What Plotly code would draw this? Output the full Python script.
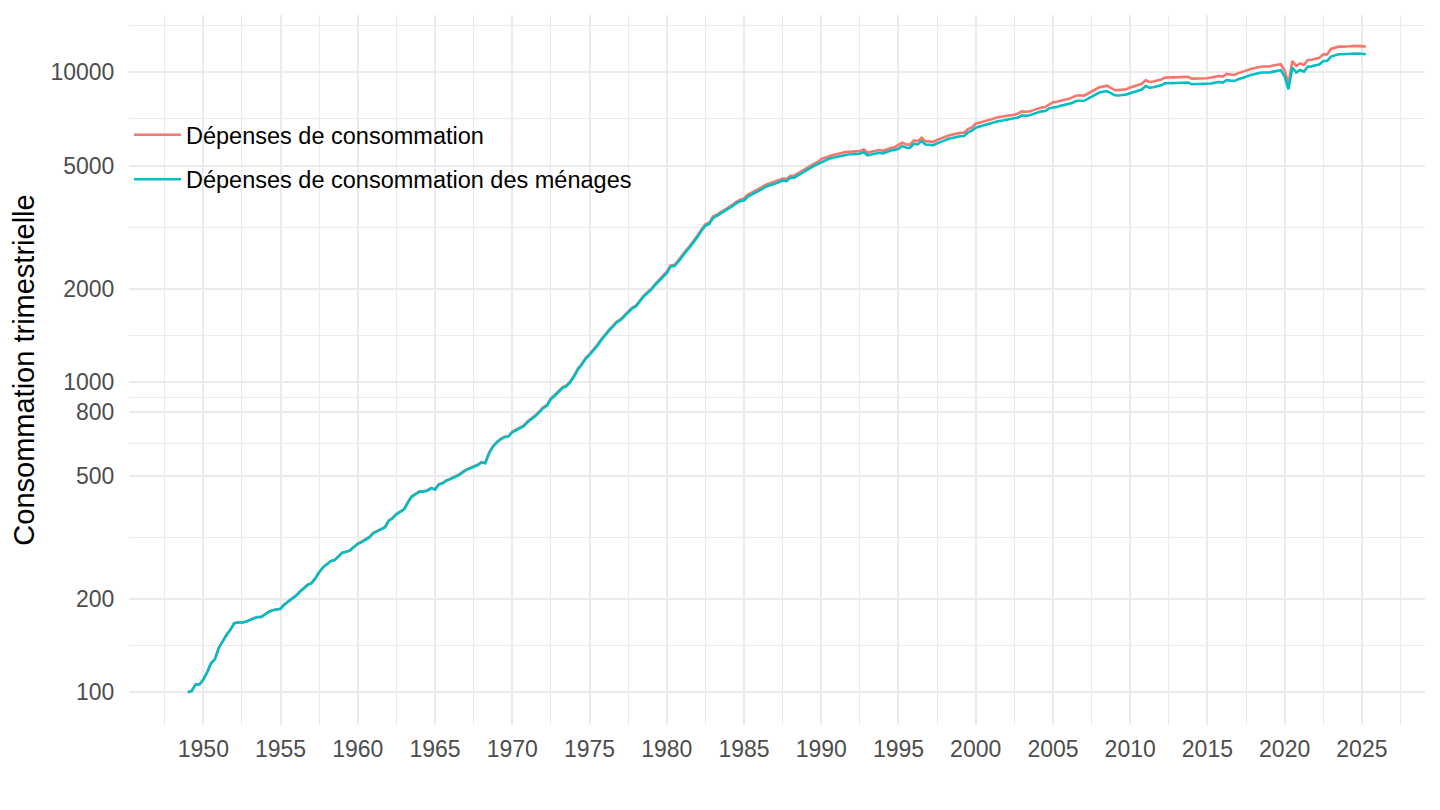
import pandas as pd
import plotly.graph_objects as go

# Quarterly values, 1949 Q1 .. 2025 Q2
menages = [
    100, 101, 106, 106,
    110, 116, 124, 128,
    139, 146, 153, 159,
    167, 168, 168, 169,
    171, 174, 175, 175,
    179, 182, 184, 185,
    186, 192, 196, 200,
    205, 211, 216, 222,
    225, 233, 244, 253,
    259, 265, 267, 275,
    282, 284, 287, 294,
    301, 305, 311, 316,
    326, 331, 336, 340,
    357, 364, 375, 381,
    389, 410, 428, 436,
    444, 444, 447, 455,
    451, 468, 472, 482,
    487, 494, 500, 510,
    521, 527, 534, 540,
    551, 548, 590, 620,
    640, 655, 665, 668,
    690, 700, 712, 722,
    745, 760, 778, 800,
    825, 840, 882, 905,
    934, 958, 970, 1000,
    1044, 1100, 1139, 1190,
    1225, 1265, 1310, 1365,
    1420, 1465, 1510, 1560,
    1585, 1630, 1690, 1730,
    1757, 1820, 1890, 1940,
    1990, 2060, 2120, 2190,
    2250, 2360, 2370, 2450,
    2550, 2640, 2730, 2830,
    2950, 3080, 3200, 3240,
    3390, 3440, 3500, 3560,
    3640, 3700, 3780, 3840,
    3855, 3970, 4030, 4100,
    4166, 4220, 4290, 4330,
    4367, 4420, 4477, 4455,
    4569, 4570, 4650, 4742,
    4820, 4900, 4980, 5050,
    5145, 5200, 5262, 5300,
    5337, 5380, 5410, 5433,
    5440, 5450, 5460, 5527,
    5400, 5430, 5460, 5502,
    5470, 5530, 5590, 5620,
    5668, 5779, 5720, 5700,
    5883, 5850, 5998, 5850,
    5840, 5820, 5900, 5980,
    6030, 6100, 6150, 6198,
    6220, 6230, 6400, 6480,
    6627, 6680, 6740, 6790,
    6843, 6900, 6962, 6990,
    7020, 7050, 7080, 7150,
    7263, 7240, 7263, 7330,
    7410, 7480, 7500, 7650,
    7700, 7725, 7800, 7840,
    7880, 7960, 8078, 8110,
    8078, 8200, 8348, 8480,
    8600, 8650, 8701, 8560,
    8428, 8420, 8440, 8480,
    8560, 8637, 8700, 8800,
    9030, 8920, 8950, 9000,
    9079, 9215, 9200, 9230,
    9235, 9240, 9260, 9270,
    9146, 9150, 9146, 9170,
    9146, 9200, 9260, 9304,
    9260, 9443, 9400, 9375,
    9500, 9613, 9680, 9779,
    9850, 9900, 9980, 9980,
    9980, 10050, 10097, 10150,
    9700, 8813, 10356, 9980,
    10173, 10052, 10433, 10450,
    10534, 10600, 10876, 10876,
    11238, 11350, 11435, 11440,
    11435, 11470, 11500, 11500,
    11480, 11435,
]

consommation = [
    100, 101, 106, 106,
    110, 116, 124, 128,
    139, 146, 153, 159,
    167, 168, 168, 169,
    171, 174, 175, 175,
    179, 182, 184, 185,
    186, 192, 196, 200,
    205, 211, 216, 222,
    225, 233, 244, 253,
    259, 265, 267, 275,
    282, 284, 287, 294,
    302, 306, 312, 317,
    327, 332, 337, 341,
    358, 365, 376, 382,
    390, 411, 429, 437,
    445, 445, 448, 456,
    452, 469, 473, 483,
    488, 496, 502, 512,
    523, 529, 536, 542,
    553, 550, 592, 622,
    642, 657, 667, 670,
    694, 704, 716, 726,
    749, 765, 783, 805,
    830, 845, 887, 910,
    940, 964, 976, 1006,
    1050, 1107, 1146, 1197,
    1232, 1273, 1318, 1373,
    1429, 1474, 1519, 1569,
    1595, 1640, 1700, 1740,
    1768, 1831, 1901, 1952,
    2002, 2072, 2133, 2203,
    2273, 2384, 2394, 2475,
    2576, 2666, 2757, 2858,
    2980, 3111, 3232, 3272,
    3424, 3474, 3535, 3596,
    3676, 3737, 3818, 3878,
    3913, 4030, 4090, 4162,
    4228, 4283, 4354, 4395,
    4433, 4486, 4544, 4522,
    4638, 4639, 4720, 4813,
    4892, 4974, 5055, 5126,
    5248, 5304, 5367, 5406,
    5444, 5488, 5518, 5542,
    5549, 5559, 5569, 5638,
    5510, 5540, 5569, 5612,
    5580, 5641, 5702, 5732,
    5810, 5923, 5863, 5843,
    6030, 5996, 6148, 5996,
    5986, 5966, 6048, 6130,
    6181, 6253, 6304, 6353,
    6376, 6386, 6560, 6642,
    6826, 6880, 6942, 6994,
    7048, 7107, 7171, 7200,
    7231, 7262, 7292, 7365,
    7481, 7457, 7481, 7550,
    7632, 7704, 7725, 7880,
    8008, 8034, 8112, 8154,
    8195, 8278, 8401, 8434,
    8401, 8528, 8682, 8819,
    8944, 8996, 9049, 8902,
    8765, 8757, 8778, 8819,
    8928, 9008, 9074, 9178,
    9418, 9304, 9335, 9387,
    9469, 9611, 9596, 9627,
    9632, 9637, 9658, 9669,
    9539, 9543, 9539, 9564,
    9567, 9623, 9686, 9732,
    9686, 9877, 9832, 9806,
    9937, 10055, 10125, 10229,
    10303, 10355, 10439, 10439,
    10439, 10512, 10561, 10617,
    10137, 9180, 10874, 10479,
    10682, 10555, 10955, 10973,
    11061, 11130, 11420, 11420,
    11890, 12008, 12098, 12104,
    12098, 12135, 12167, 12167,
    12146, 12098,
]

dates = pd.date_range("1949-01-01", periods=len(menages), freq="QS")

series_names = ["Dépenses de consommation", "Dépenses de consommation des ménages"]
series_colors = ["#F8766D", "#00BFC4"]

y_ticks = [100, 200, 500, 800, 1000, 2000, 5000, 10000]
y_minor = [141.42, 316.23, 632.46, 894.43, 1414.2, 3162.3, 7071.1, 14142]
x_tick_years = list(range(1950, 2030, 5))
x_minor_dates = ["%d-07-02" % y for y in range(1947, 2030, 5)]

FONT = "Liberation Sans, Arial, Helvetica, sans-serif"

fig = go.Figure()
for i, (name, vals) in enumerate(zip(series_names, [consommation, menages])):
    fig.add_trace(go.Scatter(
        x=dates, y=vals, mode="lines", name=name,
        legendgroup=name,
        line=dict(color=series_colors[i], width=2.6),
    ))

# the page body adds an 8px offset; figure is sized to compensate
fig.update_layout(
    width=1432, height=802,
    paper_bgcolor="white", plot_bgcolor="white",
    margin=dict(l=121, r=15, t=7, b=85, autoexpand=False),
    font=dict(family=FONT, color="#000000"),
    showlegend=True,
    legend=dict(
        x=0.0, y=0.862, xanchor="left", yanchor="top",
        bgcolor="rgba(0,0,0,0)", font=dict(size=23.5, color="#000000", family=FONT),
        tracegroupgap=11, itemwidth=47,
    ),
    xaxis=dict(
        type="date",
        range=["1945-03-10", "2029-02-01"],
        tickvals=["%d-01-01" % y for y in x_tick_years],
        ticktext=[str(y) for y in x_tick_years],
        showgrid=True, gridcolor="#EBEBEB", gridwidth=2.2,
        minor=dict(tickvals=x_minor_dates, showgrid=True, gridcolor="#EBEBEB", gridwidth=1.1),
        ticks="outside", ticklen=3, tickcolor="rgba(0,0,0,0)",
        tickfont=dict(size=23, color="#4D4D4D", family=FONT),
        zeroline=False, showline=False, automargin=False,
    ),
    yaxis=dict(
        type="log",
        range=[1.8945, 4.1848],
        tickvals=y_ticks,
        ticktext=[str(v) for v in y_ticks],
        showgrid=True, gridcolor="#EBEBEB", gridwidth=2.2,
        minor=dict(tickvals=y_minor, showgrid=True, gridcolor="#EBEBEB", gridwidth=1.1),
        ticks="outside", ticklen=9, tickcolor="rgba(0,0,0,0)",
        tickfont=dict(size=23, color="#4D4D4D", family=FONT),
        title=dict(text="Consommation trimestrielle", font=dict(size=29, color="#000000", family=FONT), standoff=9),
        zeroline=False, showline=False, automargin=False,
    ),
)

fig.write_html("out.html")
